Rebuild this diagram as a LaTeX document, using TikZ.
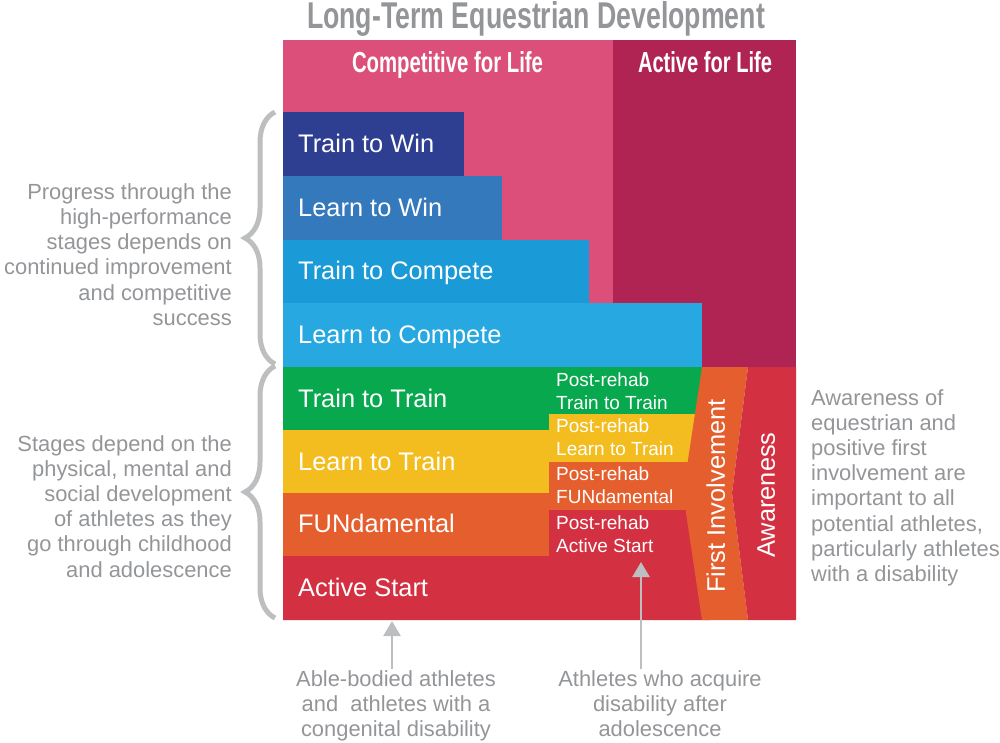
\documentclass[tikz,border=0pt]{standalone}
\usepackage{fontspec}
\setmainfont{Liberation Sans}
\usetikzlibrary{arrows.meta,
                decorations.pathreplacing}

\definecolor{ltadpink}{HTML}{DC4F7B}
\definecolor{ltadplum}{HTML}{B02454}
\definecolor{ttwblue}{HTML}{2E3F91}
\definecolor{ltwblue}{HTML}{3579BD}
\definecolor{ttcblue}{HTML}{1A9AD6}
\definecolor{ltcblue}{HTML}{27A8E0}
\definecolor{ttgreen}{HTML}{08A84E}
\definecolor{ltyellow}{HTML}{F3BD1F}
\definecolor{funorange}{HTML}{E55E2D}
\definecolor{asred}{HTML}{D33142}
\definecolor{notegray}{HTML}{939598}
\definecolor{bracegray}{HTML}{BCBEC0}

\tikzset{
    stage/.style={anchor=west, text=white, inner sep=0pt,
        font=\fontsize{25.4}{30}\selectfont, text height=17.5pt, text depth=0pt},
    postrehab/.style={anchor=base west, align=left, text=white, inner sep=0pt,
        font=\fontsize{19}{22.6}\selectfont},
    note/.style={text=notegray, inner sep=0pt, font=\fontsize{21.9}{25.2}\selectfont},
    header/.style={anchor=base, inner sep=0pt, text=white},
    uparrow/.style={draw=bracegray, line width=2.5pt, shorten <=1pt,
        -{Triangle[width=17pt,length=15pt]}},
    bracket/.style={draw=bracegray, line width=5pt, decorate,
        decoration={brace, amplitude=30pt}}
}

\begin{document}
\begin{tikzpicture}[x=1pt, y=-1pt]
    \useasboundingbox (0,0) rectangle (1000,742);

    % left edge of the staircase
    \def\lft{283}
    % where the post-rehab boxes start
    \def\pr{549}

    % background columns
    \fill[ltadpink] (\lft,40) rectangle (613,367);
    \fill[ltadplum] (613,40) rectangle (796,367);

    % high-performance stages
    \fill[ttwblue] (\lft,112) rectangle (464,176);
    \fill[ltwblue] (\lft,176) rectangle (502,240);
    \fill[ttcblue] (\lft,240) rectangle (589,303);
    \fill[ltcblue] (\lft,303) rectangle (702,367);

    % developmental stages, with the post-rehab steps on the right
    \fill[ttgreen] (\lft,367) -- (710,367) -- (710,414) -- (\pr,414) -- (\pr,430) -- (\lft,430) -- cycle;
    \fill[ltyellow] (\lft,430) -- (\pr,430) -- (\pr,414) -- (710,414) -- (710,462) -- (\pr,462) -- (\pr,493) -- (\lft,493) -- cycle;
    \fill[funorange] (\lft,493) -- (\pr,493) -- (\pr,462) -- (710,462) -- (710,510) -- (\pr,510) -- (\pr,556) -- (\lft,556) -- cycle;
    \fill[asred] (\lft,556) -- (\pr,556) -- (\pr,510) -- (710,510) -- (710,620) -- (\lft,620) -- cycle;

    % First Involvement and Awareness columns
    \fill[funorange] (702,367) -- (748,367) -- (732,493) -- (748,620) -- (702,620) -- (683,493) -- cycle;
    \fill[asred] (748,367) -- (796,367) -- (796,620) -- (748,620) -- (732,493) -- cycle;

    % titles
    \node[anchor=base, inner sep=0pt, text=notegray] (title) at (536,28)
        {\resizebox{458pt}{27pt}{\bfseries Long-Term Equestrian Development}};
    \node[header] (complife) at (447.5,72) {\resizebox{191pt}{21pt}{\bfseries Competitive for Life}};
    \node[header] (actlife) at (705,72) {\resizebox{134pt}{21pt}{\bfseries Active for Life}};

    % stage labels
    \node[stage] (trainwin) at (298,144) {Train to Win};
    \node[stage] (learnwin) at (298,208) {Learn to Win};
    \node[stage] (traincomp) at (298,270.5) {Train to Compete};
    \node[stage] (learncomp) at (298,335) {Learn to Compete};
    \node[stage] (traintrain) at (298,398.5) {Train to Train};
    \node[stage] (learntrain) at (298,461.5) {Learn to Train};
    \node[stage] (fundamental) at (298,523.5) {FUNdamental};
    \node[stage] (activestart) at (298,588) {Active Start};

    % base of a two-line node = baseline of its last line
    \node[postrehab] (prtrain) at (556,409.3) {Post-rehab\\Train to Train};
    \node[postrehab] (prlearn) at (556,455) {Post-rehab\\Learn to Train};
    \node[postrehab] (prfun) at (556,503.3) {Post-rehab\\FUNdamental};
    \node[postrehab] (practive) at (556,552.3) {Post-rehab\\Active Start};

    \node[stage, anchor=center, rotate=90] (firstinv) at (716,496) {First Involvement};
    \node[stage, anchor=center, rotate=90] (aware) at (766,495) {Awareness};

    % braces and side notes
    \draw[bracket] (275,364) -- (275,112);
    \draw[bracket] (275,618) -- (275,366);

    \node[note, anchor=base east, align=right] (hpnote) at (232,325.3)
        {Progress through the\\high-performance\\stages depends on\\continued improvement\\and competitive\\success};
    \node[note, anchor=base east, align=right] (devnote) at (232,577)
        {Stages depend on the\\physical, mental and\\social development\\of athletes as they\\go through childhood\\and adolescence};
    \node[note, anchor=base west, align=left] (awnote) at (811,581.4)
        {Awareness of\\equestrian and\\positive first\\involvement are\\important to all\\potential athletes,\\particularly athletes\\with a disability};

    % entry points at the bottom
    \node[note, anchor=base, align=center] (able) at (396,736.4)
        {Able-bodied athletes\\and\ \ athletes with a\\congenital disability};
    \node[note, anchor=base, align=center] (acquire) at (660,736.4)
        {Athletes who acquire\\disability after\\adolescence};

    \coordinate (abletip) at (392,621);
    \coordinate (acqtip) at (641,562);
    \draw[uparrow] (abletip |- able.north) -- (abletip);
    \draw[uparrow] (acqtip |- acquire.north) -- (acqtip);
\end{tikzpicture}
\end{document}
